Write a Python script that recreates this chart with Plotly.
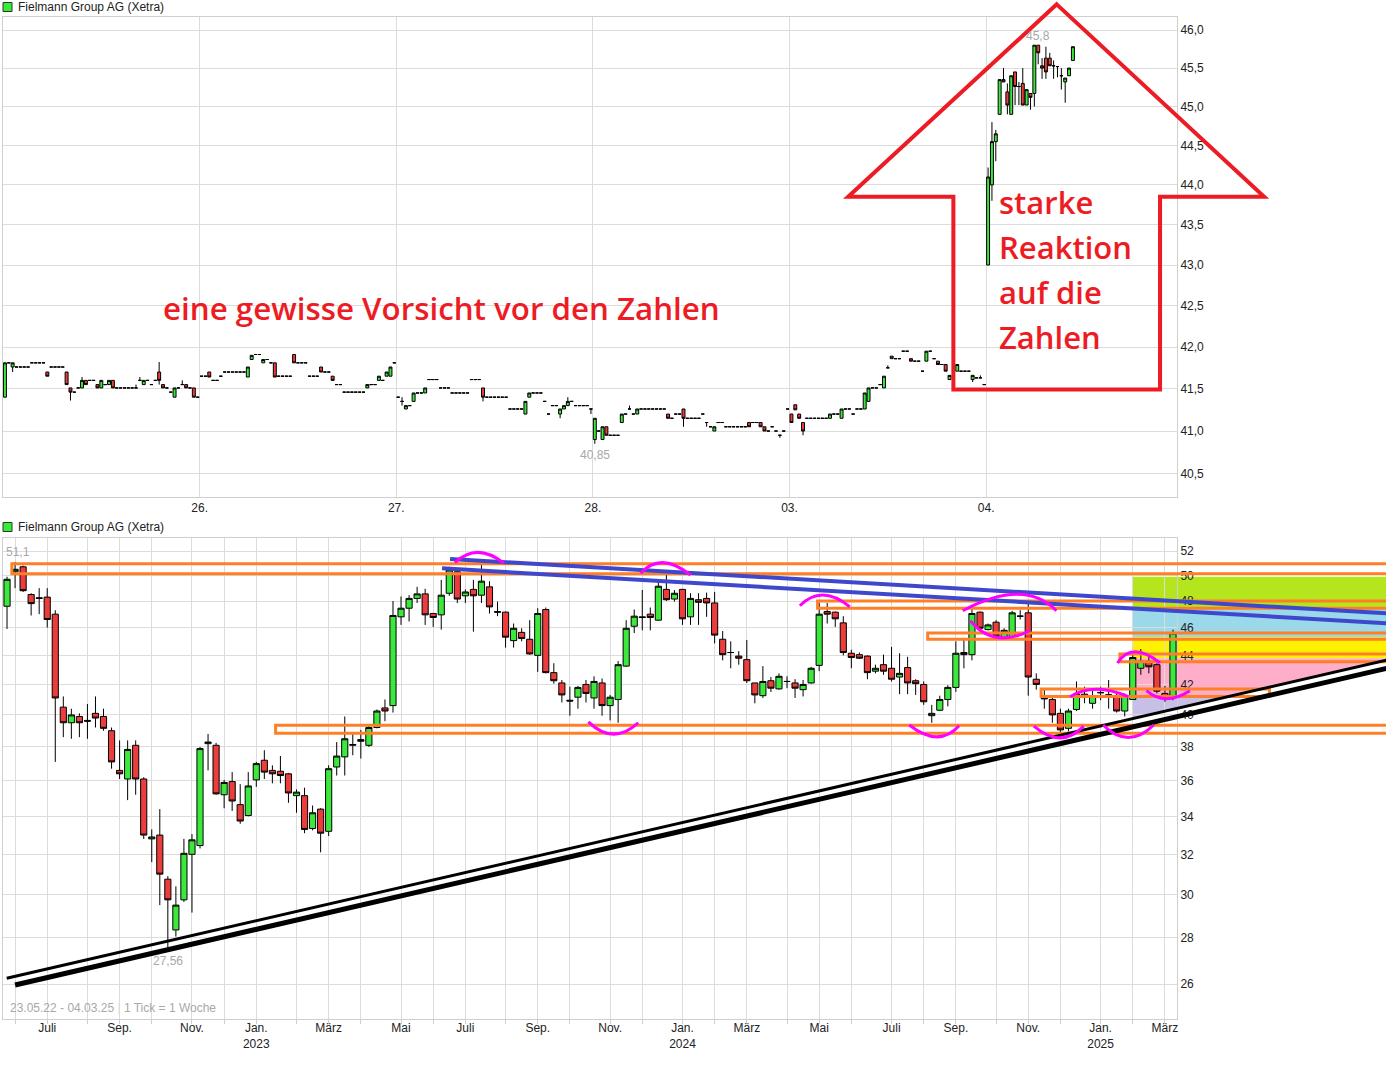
import math
import pandas as pd
import plotly.graph_objects as go

# ------------------------------------------------------------------
# Intraday panel (10-minute candles, 51 slots per trading day)
# ------------------------------------------------------------------
day_labels = ["25.", "26.", "27.", "28.", "03.", "04."]
SLOTS = 51

d25_open = [41.40, 41.81, 41.76, 41.76, 41.76, 41.76, 41.76, 41.81, 41.81, 41.81, 41.81, 41.70, 41.76, 41.76, 41.76, 41.76, 41.70,
            41.51, 41.46, 41.51, 41.51, 41.60, 41.60, 41.60, 41.55, 41.51, 41.55, 41.55, 41.60, 41.51, 41.51, 41.51, 41.51, 41.51,
            41.51, 41.60, 41.55, 41.60, 41.55, 41.60, 41.70, 41.55, 41.51, 41.46, 41.40, 41.51, 41.55, 41.55, 41.51, 41.51, 41.40]
d25_close = [41.81, 41.81, 41.81, 41.76, 41.76, 41.76, 41.76, 41.81, 41.81, 41.81, 41.81, 41.65, 41.76, 41.76, 41.76, 41.76, 41.55,
             41.46, 41.46, 41.51, 41.60, 41.55, 41.60, 41.60, 41.51, 41.60, 41.55, 41.60, 41.51, 41.51, 41.51, 41.51, 41.51, 41.51,
             41.51, 41.60, 41.60, 41.60, 41.55, 41.60, 41.60, 41.51, 41.51, 41.46, 41.51, 41.51, 41.55, 41.51, 41.51, 41.40, 41.40]
d25_wick = {2: (None, 41.70), 17: (None, 41.36), 20: (41.64, None), 34: (41.55, None), 35: (41.64, None),
            40: (41.82, 41.55), 46: (41.60, None)}

d26_open = [41.65, 41.65, 41.70, 41.60, 41.60, 41.65, 41.70, 41.70, 41.70, 41.70, 41.70, 41.70, 41.64, 41.85, 41.91, 41.91, 41.81,
            41.85, 41.81, 41.81, 41.65, 41.65, 41.65, 41.65, 41.91, 41.81, 41.81, 41.81, 41.65, 41.65, 41.65, 41.76, 41.70, 41.70,
            41.65, 41.55, 41.55, 41.46, 41.46, 41.46, 41.46, 41.46, 41.46, 41.51, 41.55, 41.55, 41.60, 41.60, 41.65, 41.65, 41.81]
d26_close = [41.65, 41.65, 41.64, 41.60, 41.60, 41.65, 41.70, 41.70, 41.70, 41.70, 41.70, 41.70, 41.76, 41.90, 41.91, 41.91, 41.85,
             41.85, 41.81, 41.64, 41.65, 41.65, 41.65, 41.65, 41.81, 41.81, 41.81, 41.81, 41.65, 41.65, 41.65, 41.70, 41.70, 41.70,
             41.60, 41.55, 41.55, 41.46, 41.46, 41.46, 41.46, 41.46, 41.46, 41.55, 41.55, 41.55, 41.65, 41.60, 41.70, 41.76, 41.81]
d26_wick = {}

d27_open = [41.40, 41.35, 41.26, 41.30, 41.35, 41.45, 41.45, 41.45, 41.61, 41.61, 41.61, 41.51, 41.51, 41.51, 41.45, 41.45, 41.45,
            41.45, 41.45, 41.61, 41.61, 41.61, 41.51, 41.40, 41.40, 41.40, 41.40, 41.40, 41.40, 41.26, 41.26, 41.26, 41.26, 41.20,
            41.40, 41.45, 41.45, 41.45, 41.35, 41.20, 41.30, 41.30, 41.20, 41.26, 41.30, 41.35, 41.30, 41.30, 41.30, 41.30, 41.26]
d27_close = [41.40, 41.35, 41.30, 41.30, 41.45, 41.45, 41.45, 41.51, 41.61, 41.61, 41.61, 41.51, 41.51, 41.51, 41.45, 41.45, 41.45,
             41.45, 41.45, 41.61, 41.61, 41.61, 41.40, 41.40, 41.40, 41.40, 41.40, 41.40, 41.40, 41.26, 41.26, 41.26, 41.26, 41.35,
             41.45, 41.45, 41.45, 41.45, 41.35, 41.20, 41.30, 41.30, 41.26, 41.30, 41.35, 41.35, 41.30, 41.30, 41.30, 41.30, 41.26]
d27_wick = {1: (41.40, 41.30), 22: (None, 41.35), 42: (None, 41.15), 44: (41.40, None), 50: (None, 41.20)}

d28_open = [40.90, 41.00, 40.90, 41.05, 40.95, 40.95, 40.95, 41.10, 41.20, 41.26, 41.20, 41.20, 41.26, 41.26, 41.26, 41.26, 41.26,
            41.26, 41.26, 41.20, 41.15, 41.20, 41.20, 41.26, 41.15, 41.15, 41.15, 41.15, 41.20, 41.10, 41.05, 41.00, 41.10, 41.10,
            41.05, 41.05, 41.05, 41.05, 41.05, 41.05, 41.10, 41.10, 41.10, 41.10, 41.05, 41.00, 41.05, 41.00, 40.95, 41.00, 41.26]
d28_close = [41.15, 41.00, 41.05, 40.95, 40.95, 40.95, 40.95, 41.20, 41.20, 41.26, 41.20, 41.26, 41.26, 41.26, 41.26, 41.26, 41.26,
             41.26, 41.26, 41.15, 41.15, 41.20, 41.20, 41.15, 41.15, 41.15, 41.15, 41.15, 41.20, 41.10, 41.05, 41.05, 41.10, 41.10,
             41.05, 41.05, 41.05, 41.05, 41.05, 41.05, 41.05, 41.10, 41.10, 41.05, 41.00, 41.00, 41.05, 41.00, 40.95, 41.00, 41.26]
d28_wick = {0: (None, 40.85), 9: (41.30, None), 23: (None, 41.05), 29: (None, 41.05), 48: (None, 40.92)}

d03_open = [41.20, 41.31, 41.20, 41.10, 41.15, 41.15, 41.15, 41.15, 41.15, 41.15, 41.15, 41.20, 41.20, 41.15, 41.26, 41.26, 41.20,
            41.26, 41.26, 41.26, 41.35, 41.51, 41.51, 41.55, 41.51, 41.75, 41.86, 41.86, 41.86, 41.95, 41.95, 41.86, 41.83, 41.83,
            41.71, 41.83, 41.95, 41.86, 41.83, 41.79, 41.79, 41.61, None, 41.71, 41.71, 41.71, 41.71, 41.61, 41.63, 41.63, 41.55]
d03_close = [41.10, 41.25, 41.15, 41.00, 41.15, 41.15, 41.15, 41.15, 41.15, 41.15, 41.20, 41.20, 41.20, 41.26, 41.26, 41.26, 41.20,
             41.26, 41.26, 41.45, 41.51, 41.51, 41.51, 41.55, 41.65, 41.75, 41.89, 41.86, 41.86, 41.95, 41.95, 41.83, 41.83, 41.83,
             41.71, 41.95, 41.95, 41.86, 41.79, 41.79, 41.71, 41.66, None, 41.79, 41.71, 41.71, 41.71, 41.66, 41.63, 41.63, 41.55]
d03_wick = {3: (None, 40.95), 25: (41.78, None), 47: (None, 41.58), 49: (41.66, None)}

d04_open = [43.00, 44.00, 44.55, 44.90, 45.35, 45.19, 44.90, 45.45, 45.26, 45.30, 45.02, 45.17, 45.17, 45.80, 45.53, 45.63,
            45.63, 45.53, 45.52, 45.40, 45.32, 45.40, 45.60]
d04_close = [44.10, 44.55, 44.65, 45.35, 45.32, 45.02, 45.40, 45.26, 45.26, 45.02, 45.22, 45.12, 45.80, 45.70, 45.50, 45.45,
             45.53, 45.53, 45.52, 45.40, 45.37, 45.50, 45.78]
d04_wick = {0: (44.22, None), 1: (44.80, 43.80), 2: (44.70, 44.30), 4: (45.50, None), 5: (45.30, 44.90), 7: (None, 45.02),
            8: (45.32, 45.02), 9: (45.50, None), 11: (None, 44.96), 12: (None, 45.00), 13: (None, 45.55), 14: (45.63, 45.36),
            15: (45.78, 45.36), 16: (45.70, None), 17: (45.60, 45.36), 18: (None, 45.38), 19: (45.50, 45.22), 20: (None, 45.05)}

intraday_days = [(d25_open, d25_close, d25_wick), (d26_open, d26_close, d26_wick), (d27_open, d27_close, d27_wick),
                 (d28_open, d28_close, d28_wick), (d03_open, d03_close, d03_wick), (d04_open, d04_close, d04_wick)]

top_ticks = [40.5, 41.0, 41.5, 42.0, 42.5, 43.0, 43.5, 44.0, 44.5, 45.0, 45.5, 46.0]

# ------------------------------------------------------------------
# Weekly panel: 23.05.22 - 04.03.25 (1 Tick = 1 Woche)
# ------------------------------------------------------------------
week_start = "2022-05-23"
wk_open = [47.6, 50.3, 50.7, 48.5, 48.25, 48.3, 47.0, 40.5, 39.5, 39.9, 39.65, 40.1, 39.9, 39.0, 36.6, 36.1, 38.1, 36.1, 32.8,
           33.0, 30.75, 28.35, 29.75, 32.0, 32.45, 38.2, 38.1, 35.2, 35.95, 34.65, 34.05, 36.05, 37.2, 36.6, 36.55, 36.4, 35.15,
           35.15, 33.35, 34.4, 33.2, 36.8, 37.4, 38.1, 38.45, 38.1, 39.2, 40.45, 40.6, 46.8, 47.45, 48.2, 48.55, 47.05, 46.95,
           48.6, 50.3, 48.4, 48.9, 48.45, 49.1, 47.2, 47.15, 45.05, 45.65, 45.15, 44.0, 47.35, 42.8, 42.1, 40.95, 41.15, 42.0,
           41.1, 42.1, 40.6, 41.0, 43.25, 46.1, 46.8, 47.0, 46.55, 48.9, 48.15, 48.9, 46.8, 48.1, 48.2, 47.85, 45.15, 44.2,
           43.95, 43.7, 42.1, 41.25, 42.25, 41.7, 42.2, 42.1, 41.65, 42.1, 43.3, 47.2, 47.15, 46.35, 44.15, 44.05, 43.95, 42.9,
           43.35, 43.1, 42.5, 43.15, 42.25, 42.0, 39.95, 40.3, 41.0, 41.8, 44.2, 44.05, 47.15, 45.85, 46.4, 45.2, 45.35, 46.85,
           47.1, 42.35, 41.1, 41.0, 40.1, 39.15, 40.35, 41.35, 40.75, 41.45, 41.3, 41.25, 40.25, 41.0, 43.1, 43.6, 43.35, 41.4,
           41.2]
wk_high = [49.9, 51.1, 50.8, 48.6, 49.0, 49.0, 47.3, 41.2, 40.4, 40.1, 40.7, 41.2, 40.4, 39.2, 38.4, 38.4, 38.4, 36.2, 33.3,
           34.4, 30.9, 30.4, 32.8, 33.05, 38.0, 38.8, 38.25, 36.05, 36.5, 35.8, 36.5, 37.1, 37.8, 36.9, 37.45, 36.45, 35.5,
           35.6, 34.6, 34.45, 36.9, 38.3, 39.9, 38.85, 39.05, 39.3, 40.35, 41.0, 48.0, 48.35, 48.45, 49.1, 48.95, 47.1, 49.65,
           50.7, 50.45, 48.9, 49.65, 50.85, 49.55, 47.95, 47.2, 46.3, 45.95, 46.55, 47.45, 47.5, 43.45, 42.3, 41.85, 41.9, 42.3,
           42.55, 42.4, 41.3, 43.6, 46.55, 47.35, 48.85, 47.5, 49.5, 50.05, 48.85, 48.95, 48.6, 48.6, 48.65, 48.7, 45.75, 45.0,
           44.3, 45.1, 42.1, 43.25, 42.5, 42.75, 42.55, 42.35, 42.3, 43.2, 47.85, 47.85, 47.2, 46.85, 44.4, 44.2, 44.0, 43.35,
           44.05, 44.6, 44.15, 43.9, 42.35, 42.2, 40.65, 41.25, 41.95, 45.0, 45.1, 47.45, 47.2, 46.3, 46.55, 45.95, 47.25, 47.3,
           47.95, 42.75, 41.75, 41.2, 40.4, 40.4, 42.2, 41.85, 41.75, 41.85, 42.3, 41.5, 41.4, 44.15, 44.45, 43.9, 43.55, 41.9,
           45.85]
wk_low = [45.9, 49.0, 48.7, 46.9, 47.0, 46.0, 37.1, 38.6, 38.5, 38.6, 38.5, 39.2, 39.0, 36.7, 36.1, 34.9, 35.2, 32.8, 31.6,
          29.5, 27.56, 28.05, 29.65, 29.15, 32.3, 36.6, 35.2, 34.45, 34.3, 33.6, 34.0, 35.65, 36.1, 35.85, 35.85, 34.75, 34.2,
          33.1, 33.25, 32.1, 32.95, 36.3, 36.3, 37.5, 37.3, 38.0, 39.15, 39.6, 40.15, 46.2, 46.45, 47.85, 46.2, 46.05, 45.85,
          48.4, 47.85, 47.85, 45.7, 47.85, 47.05, 46.85, 44.55, 44.55, 45.0, 44.05, 42.85, 42.75, 42.05, 40.8, 39.95, 40.4,
          40.8, 40.4, 39.95, 39.65, 39.5, 43.2, 45.6, 45.8, 45.8, 46.5, 48.0, 47.95, 46.2, 46.2, 46.2, 46.8, 44.85, 43.65,
          43.1, 43.35, 42.1, 40.75, 41.1, 41.5, 41.65, 41.75, 41.1, 41.2, 42.05, 42.9, 46.3, 46.05, 44.0, 43.1, 43.75, 42.35,
          42.75, 42.65, 42.2, 41.35, 41.35, 41.3, 40.65, 39.5, 40.25, 40.55, 41.5, 43.1, 43.65, 45.8, 45.8, 45.3, 45.1, 45.3,
          46.6, 41.25, 41.65, 40.4, 39.5, 38.85, 38.95, 40.25, 40.75, 40.4, 40.95, 40.4, 40.15, 39.9, 41.0, 42.65, 42.75,
          41.4, 40.85, 40.95]
wk_close = [49.7, 50.5, 48.8, 47.8, 48.2, 46.6, 41.1, 39.5, 40.0, 39.5, 39.6, 39.8, 39.15, 37.1, 36.4, 37.85, 36.1, 33.0, 32.9,
            31.0, 29.75, 29.5, 32.05, 32.75, 37.9, 38.3, 35.25, 35.9, 34.85, 33.75, 35.7, 37.0, 36.5, 36.4, 36.3, 35.3, 35.35,
            33.3, 34.2, 33.1, 36.7, 37.45, 38.5, 38.15, 38.35, 39.2, 40.25, 40.25, 46.9, 47.45, 48.2, 48.55, 46.95, 46.75, 48.45,
            50.45, 48.15, 48.7, 48.4, 49.55, 47.55, 47.15, 45.3, 45.95, 45.2, 44.1, 47.05, 42.8, 42.25, 41.3, 40.9, 41.8, 41.4,
            42.2, 40.6, 41.15, 43.35, 45.95, 46.85, 46.75, 46.75, 49.15, 48.1, 48.6, 46.65, 48.2, 47.9, 47.85, 45.45, 44.05,
            44.2, 43.8, 42.25, 41.3, 42.2, 41.75, 42.55, 42.2, 41.75, 42.0, 43.1, 47.0, 47.0, 46.65, 44.2, 43.85, 43.8, 42.8,
            43.1, 42.9, 42.35, 42.75, 42.1, 42.05, 40.85, 40.1, 41.0, 41.8, 44.15, 44.05, 47.05, 45.95, 46.2, 45.4, 45.8, 47.1,
            46.85, 42.5, 42.0, 41.05, 40.0, 39.05, 40.25, 41.35, 41.15, 41.25, 41.45, 41.3, 40.25, 41.2, 43.85, 43.6, 43.2,
            41.55, 41.1, 45.6]
bot_ticks = [26, 28, 30, 32, 34, 36, 38, 40, 42, 44, 46, 48, 50, 52]
month_names = {1: "Jan.", 3: "März", 5: "Mai", 7: "Juli", 9: "Sep.", 11: "Nov."}

# ------------------------------------------------------------------
# Hand-drawn markup overlay (in data units of each panel)
# ------------------------------------------------------------------
# bottom panel: (week index, price)
level_boxes = [(0.6, 175, 50.15, 50.95), (33.4, 175, 38.85, 39.35), (100.8, 175, 47.45, 48.0),
               (114.5, 175, 45.15, 45.6), (138.4, 175, 43.55, 44.1), (128.6, 157.0, 41.2, 41.7)]
down_trend = [((55.1, 51.34), (171.6, 47.06)), ((54.1, 50.58), (171.6, 46.32))]
up_trend = [((-0.04, 26.24), (171.6, 43.67), 3), ((1.0, 25.96), (171.6, 43.10), 5)]
arcs = [((55.7, 51.04), (58.6, 51.89), (61.8, 50.99)), ((78.8, 50.18), (81.6, 51.04), (85.0, 50.04)),
        ((98.6, 47.64), (101.5, 48.46), (104.8, 47.56)), ((118.85, 47.26), (125.6, 48.52), (130.5, 47.26)),
        ((138.1, 43.47), (140.3, 44.26), (143.4, 43.47)), ((132.2, 41.18), (135.5, 41.67), (139.45, 41.18)),
        ((72.3, 39.56), (75.4, 38.79), (78.5, 39.50)), ((112.2, 39.36), (115.6, 38.62), (118.4, 39.31)),
        ((127.7, 39.29), (130.95, 38.56), (133.9, 39.29)), ((136.3, 39.36), (139.45, 38.58), (142.6, 39.36)),
        ((119.8, 46.51), (123.1, 45.29), (127.2, 45.77)), ((141.7, 41.58), (144.2, 41.05), (147.1, 41.58))]
zone_x0, zone_x1 = 140.03, 175
zone_bands = [("#b5e61d", 47.44, 49.90), ("#99d9ea", 45.31, 47.44), ("#fff200", 43.80, 45.31)]
pink_top, pink_split = 43.80, 41.18
# top panel: (slot index, price)
arrow_pts = [(272.8, 46.34), (326.6, 43.85), (299.6, 43.85), (299.6, 41.49), (246.0, 41.49), (246.0, 43.85), (218.7, 43.85)]

# ------------------------------------------------------------------
# Geometry of the canvas
# ------------------------------------------------------------------
W, H = 1386, 1082
ML, MR, MT, MB = 3, 209, 17, 63
PH = H - MT - MB
PW = W - ML - MR
TOP_DOM = [(PH - (497 - MT)) / PH, 1.0]
BOT_DOM = [0.0, (PH - (538 - MT)) / PH]
top_xr = [-0.5, 304.0]
top_yr = [math.log10(40.231), math.log10(46.172)]
bot_xr = [-0.5, 145.5]
bot_yr = [math.log10(24.584), math.log10(53.094)]


def paper(x, p, xr, yr, dom):
    xp = (x - xr[0]) / (xr[1] - xr[0])
    yp = dom[0] + (math.log10(p) - yr[0]) / (yr[1] - yr[0]) * (dom[1] - dom[0])
    return xp, yp


def pb(x, p):
    return paper(x, p, bot_xr, bot_yr, BOT_DOM)


def pt(x, p):
    return paper(x, p, top_xr, top_yr, TOP_DOM)


def pxp(px, py):  # canvas pixel -> paper (for text placement)
    return (px - ML) / PW, (H - MB - py) / PH


# ---- build intraday series
tx, to, th, tl, tc = [], [], [], [], []
for d, (op, cl, wk) in enumerate(intraday_days):
    for i, (o, c) in enumerate(zip(op, cl)):
        if o is None or c is None:
            continue
        hi, lo = max(o, c), min(o, c)
        if i in wk:
            wh, wl = wk[i]
            hi = wh if wh is not None else hi
            lo = wl if wl is not None else lo
        tx.append(d * SLOTS + i)
        to.append(o); th.append(hi); tl.append(lo); tc.append(c)

weeks = pd.date_range(week_start, periods=len(wk_close), freq="7D")
bx = list(range(len(wk_close)))

GREEN, RED = "#3de83d", "#ec3d3d"
fig = go.Figure()
common = dict(increasing=dict(fillcolor=GREEN, line=dict(color="#000000", width=1)),
              decreasing=dict(fillcolor=RED, line=dict(color="#000000", width=1)),
              whiskerwidth=0, hoverinfo="skip", showlegend=False)
fig.add_trace(go.Candlestick(x=tx, open=to, high=th, low=tl, close=tc, xaxis="x", yaxis="y", **common))
fig.add_trace(go.Candlestick(x=bx, open=wk_open, high=wk_high, low=wk_low, close=wk_close, xaxis="x2", yaxis="y2", **common))

# axis ticks
top_tv = [d * SLOTS - 0.5 for d in range(1, len(day_labels))]
top_tt = day_labels[1:]
mstarts = pd.date_range("2022-06-01", weeks[-1], freq="MS")
bot_tv, bot_tt = [], []
for m in mstarts:
    bot_tv.append((m - weeks[0]).days // 7)
    t = month_names.get(m.month, "")
    if m.month == 1:
        t += "<br>%d" % m.year
    bot_tt.append(t)

GRID = "#dcdcdc"
FONT = "Liberation Sans, Arial, sans-serif"
axfont = dict(family=FONT, size=12, color="#222222")
fig.update_layout(
    width=W, height=H, margin=dict(l=ML, r=MR, t=MT, b=MB, pad=0),
    paper_bgcolor="white", plot_bgcolor="white", hovermode=False,
    boxgap=0.1, boxgroupgap=0.15,
    xaxis=dict(domain=[0, 1], anchor="y", range=top_xr, tickvals=top_tv, ticktext=top_tt, showgrid=True,
               gridcolor=GRID, showline=True, mirror=True, linecolor="#cfcfcf", ticks="", zeroline=False,
               rangeslider=dict(visible=False), tickfont=axfont, fixedrange=True),
    yaxis=dict(domain=TOP_DOM, anchor="x", type="log", range=top_yr, side="right", tickvals=top_ticks,
               ticktext=[("%.1f" % v).replace(".", ",") for v in top_ticks], showgrid=True, gridcolor=GRID,
               showline=True, mirror=True, linecolor="#cfcfcf", ticks="", zeroline=False, tickfont=axfont),
    xaxis2=dict(domain=[0, 1], anchor="y2", range=bot_xr, tickvals=bot_tv, ticktext=bot_tt, showgrid=True,
                gridcolor=GRID, showline=True, mirror=True, linecolor="#cfcfcf", ticks="outside", ticklen=4,
                tickcolor="#cfcfcf", zeroline=False, rangeslider=dict(visible=False), tickfont=axfont,
                ticklabelstandoff=-6),
    yaxis2=dict(domain=BOT_DOM, anchor="x2", type="log", range=bot_yr, side="right", tickvals=bot_ticks,
                ticktext=[str(v) for v in bot_ticks], showgrid=True, gridcolor=GRID, showline=True, mirror=True,
                linecolor="#cfcfcf", ticks="", zeroline=False, tickfont=axfont),
)

shapes = []
ORANGE, BLUE, MAG, ARROW = "#ff7f27", "#3f48cc", "#ff00ff", "#ed1c24"

# coloured zones (below grid)
for col, lo, hi in zone_bands:
    x0, y0 = pb(zone_x0, lo)
    x1, y1 = pb(zone_x1, hi)
    shapes.append(dict(type="rect", xref="paper", yref="paper", x0=x0, x1=x1, y0=y0, y1=y1,
                       fillcolor=col, line=dict(width=0), layer="below"))
(ax0, ap0), (ax1, ap1), _ = up_trend[0]


def trend_at(x):
    f = (x - ax0) / (ax1 - ax0)
    return 10 ** (math.log10(ap0) + f * (math.log10(ap1) - math.log10(ap0)))


def trend_x_at(p):
    f = (math.log10(p) - math.log10(ap0)) / (math.log10(ap1) - math.log10(ap0))
    return ax0 + f * (ax1 - ax0)


xs = trend_x_at(pink_split)
pink = [pb(zone_x0, pink_top), pb(ax1, pink_top), pb(ax1, ap1), pb(xs, pink_split), pb(zone_x0, pink_split)]
lav = [pb(zone_x0, pink_split), pb(xs, pink_split), pb(zone_x0, trend_at(zone_x0))]
for poly, col in ((pink, "#ffaec9"), (lav, "#c8bfe7")):
    path = "M " + " L ".join("%f %f" % pt_ for pt_ in poly) + " Z"
    shapes.append(dict(type="path", xref="paper", yref="paper", path=path, fillcolor=col,
                       line=dict(width=0), layer="below"))

# orange level boxes
for x0d, x1d, lo, hi in level_boxes:
    x0, y0 = pb(x0d, lo)
    x1, y1 = pb(x1d, hi)
    shapes.append(dict(type="rect", xref="paper", yref="paper", x0=x0, x1=x1, y0=y0, y1=y1,
                       line=dict(color=ORANGE, width=3), layer="above"))
# blue down trend
for (a, b) in down_trend:
    x0, y0 = pb(*a)
    x1, y1 = pb(*b)
    shapes.append(dict(type="line", xref="paper", yref="paper", x0=x0, y0=y0, x1=x1, y1=y1,
                       line=dict(color=BLUE, width=4), layer="above"))
# black up trend
for a, b, w in up_trend:
    x0, y0 = pb(*a)
    x1, y1 = pb(*b)
    shapes.append(dict(type="line", xref="paper", yref="paper", x0=x0, y0=y0, x1=x1, y1=y1,
                       line=dict(color="#000000", width=w), layer="above"))
# magenta arcs
for a, m, b in arcs:
    (x0, y0), (xm, ym), (x2, y2) = pb(*a), pb(*m), pb(*b)
    cx, cy = 2 * xm - (x0 + x2) / 2, 2 * ym - (y0 + y2) / 2
    shapes.append(dict(type="path", xref="paper", yref="paper",
                       path="M %f %f Q %f %f %f %f" % (x0, y0, cx, cy, x2, y2),
                       line=dict(color=MAG, width=3), layer="above"))
# red arrow on intraday panel
path = "M " + " L ".join("%f %f" % pt(*q) for q in arrow_pts) + " Z"
shapes.append(dict(type="path", xref="paper", yref="paper", path=path, line=dict(color=ARROW, width=4),
                   layer="above"))

# legend squares
for yc in (7, 527):
    x0, y0 = pxp(3, yc - 4.5)
    x1, y1 = pxp(12, yc + 4.5)
    shapes.append(dict(type="rect", xref="paper", yref="paper", x0=x0, x1=x1, y0=y0, y1=y1,
                       fillcolor="#33ee33", line=dict(color="#333333", width=1), layer="above"))
fig.update_layout(shapes=shapes)

ann = []
for yc in (7, 527):
    x, y = pxp(16, yc)
    ann.append(dict(x=x, y=y, xref="paper", yref="paper", text="Fielmann Group AG (Xetra)", showarrow=False,
                    xanchor="left", yanchor="middle", font=dict(family=FONT, size=12, color="#222222")))
GRAYF = dict(family=FONT, size=12, color="#a8a8a8")
# extreme labels
imax = max(range(len(th)), key=lambda k: th[k])
imin = min(range(len(tl)), key=lambda k: tl[k])
ann.append(dict(x=tx[imax], y=math.log10(th[imax]), xref="x", yref="y", text=("%.1f" % th[imax]).replace(".", ","),
                showarrow=False, yshift=9, xshift=4, font=GRAYF))
ann.append(dict(x=tx[imin], y=math.log10(tl[imin]), xref="x", yref="y", text=("%.2f" % tl[imin]).replace(".", ","),
                showarrow=False, yshift=-11, font=GRAYF))
bmax = max(bx, key=lambda k: wk_high[k])
bmin = min(bx, key=lambda k: wk_low[k])
ann.append(dict(x=bx[bmax], y=math.log10(wk_high[bmax]), xref="x2", yref="y2",
                text=("%.1f" % wk_high[bmax]).replace(".", ","), showarrow=False, yshift=10, xshift=3, font=GRAYF))
ann.append(dict(x=bx[bmin], y=math.log10(wk_low[bmin]), xref="x2", yref="y2",
                text=("%.2f" % wk_low[bmin]).replace(".", ","), showarrow=False, yshift=-13, font=GRAYF))
x, y = pxp(8, 1008)
ann.append(dict(x=x, y=y, xref="paper", yref="paper", showarrow=False, xanchor="left", yanchor="middle",
                text="%s - 04.03.25 <span style='color:#dddddd'>|</span> 1 Tick = 1 Woche" % weeks[0].strftime("%d.%m.%y"),
                font=GRAYF))
# red commentary
RFONT = "Open Sans, Noto Sans, sans-serif"
x, y = pxp(161, 308)
ann.append(dict(x=x, y=y, xref="paper", yref="paper", text="eine gewisse Vorsicht vor den Zahlen", showarrow=False,
                xanchor="left", yanchor="middle", font=dict(family=RFONT, size=31.3, color=ARROW, weight=600)))
for txt, yc in (("starke", 202), ("Reaktion", 247), ("auf die", 292), ("Zahlen", 337)):
    x, y = pxp(997, yc)
    ann.append(dict(x=x, y=y, xref="paper", yref="paper", text=txt, showarrow=False, xanchor="left",
                    yanchor="middle", font=dict(family=RFONT, size=31, color=ARROW, weight=600)))
fig.update_layout(annotations=ann)

fig.write_html("out.html", config={"displayModeBar": False},
               post_script="document.body.style.margin='0';document.body.style.overflow='hidden';")
